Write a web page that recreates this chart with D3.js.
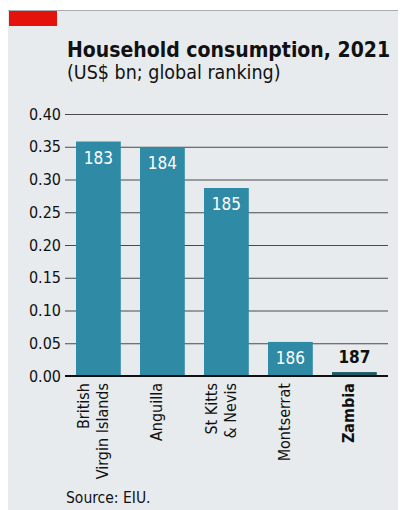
<!DOCTYPE html>
<html>
<head>
<meta charset="utf-8">
<script src="https://cdn.jsdelivr.net/npm/d3@7"></script>
<style>
  html, body { margin: 0; padding: 0; background: #ffffff; }
  svg { display: block; }
  text { font-family: "Liberation Sans Narrow", "DejaVu Sans Condensed", "Liberation Sans", sans-serif; }
</style>
</head>
<body>
<svg id="chart" width="403" height="510"></svg>
<script>
// Household consumption, 2021 (US$ bn) and global ranking
const categories = [["British", "Virgin Islands"], ["Anguilla"], ["St Kitts", "& Nevis"], ["Montserrat"], ["Zambia"]];
const values = [0.358, 0.349, 0.287, 0.052, 0.006];
const ranks = ["183", "184", "185", "186", "187"];
const highlight = [false, false, false, false, true];
const yTicks = [0, 0.05, 0.10, 0.15, 0.20, 0.25, 0.30, 0.35, 0.40];

const svg = d3.select("#chart");
const W = 403, H = 510;

// card background
svg.append("rect").attr("x", 8).attr("y", 10).attr("width", 390).attr("height", H - 10)
  .attr("fill", "#e7ebed");
svg.append("line").attr("x1", 8).attr("x2", 398).attr("y1", 10.5).attr("y2", 10.5)
  .attr("stroke", "#a9acae").attr("stroke-width", 1);
svg.append("rect").attr("x", 9).attr("y", 11).attr("width", 48).attr("height", 15)
  .attr("fill", "#e3120b");

// titles
svg.append("text").attr("x", 67).attr("y", 57)
  .attr("font-size", 21).attr("font-weight", "bold").attr("fill", "#111")
  .text("Household consumption, 2021");
svg.append("text").attr("x", 67).attr("y", 79)
  .attr("font-size", 19.5).attr("fill", "#111")
  .text("(US$ bn; global ranking)");

const plotLeft = 65, plotRight = 388, plotTop = 114, plotBottom = 376;

const x = d3.scaleBand().domain(d3.range(categories.length))
  .range([63.2, 389.6]).paddingInner(0.3).paddingOuter(0.2);
const y = d3.scaleLinear().domain([0, 0.40]).range([plotBottom, plotTop]);

// gridlines and tick labels
const yAxis = d3.axisLeft(y).tickValues(yTicks).tickFormat(d3.format(".2f"))
  .tickSize(-(plotRight - plotLeft)).tickPadding(4);
const ga = svg.append("g").attr("transform", `translate(${plotLeft},0)`).call(yAxis);
ga.select(".domain").remove();
ga.selectAll(".tick line").attr("stroke", "#4a4a4a").attr("stroke-width", 1);
ga.selectAll(".tick text").attr("font-size", 16).attr("fill", "#111")
  .style("font-family", '"Liberation Sans Narrow", "DejaVu Sans Condensed", sans-serif');

// bars
svg.append("g").selectAll("rect").data(values).join("rect")
  .attr("x", (d, i) => x(i)).attr("width", x.bandwidth())
  .attr("y", d => y(d)).attr("height", d => y(0) - y(d))
  .attr("fill", (d, i) => highlight[i] ? "#1d5c66" : "#2f8aa5");

// baseline
svg.append("line").attr("x1", plotLeft).attr("x2", plotRight).attr("y1", y(0)).attr("y2", y(0))
  .attr("stroke", "#111").attr("stroke-width", 2);

// ranking labels
svg.append("g").selectAll("text").data(values).join("text")
  .attr("x", (d, i) => x(i) + x.bandwidth() / 2)
  .attr("y", (d, i) => highlight[i] ? y(d) - 9 : y(d) + 22)
  .attr("text-anchor", "middle")
  .attr("font-size", 17)
  .attr("font-weight", (d, i) => highlight[i] ? "bold" : "normal")
  .attr("fill", (d, i) => highlight[i] ? "#111" : "#ffffff")
  .text((d, i) => ranks[i]);

// category labels, rotated
const lineGap = 19;
const cat = svg.append("g").selectAll("text").data(categories).join("text")
  .attr("transform", (d, i) => {
    const cx = x(i) + x.bandwidth() / 2;
    const off = -(d.length - 1) * lineGap / 2;
    return `translate(${cx + off},${plotBottom + 7}) rotate(-90)`;
  })
  .attr("text-anchor", "end")
  .attr("font-size", 16)
  .attr("font-weight", (d, i) => highlight[i] ? "bold" : "normal")
  .attr("fill", "#111");
cat.selectAll("tspan").data(d => d).join("tspan")
  .attr("x", 0).attr("dy", (d, j) => j === 0 ? 0 : lineGap)
  .text(d => d);

// source
svg.append("text").attr("x", 66).attr("y", 503)
  .attr("font-size", 15.5).attr("fill", "#111")
  .text("Source: EIU.");
</script>
</body>
</html>
